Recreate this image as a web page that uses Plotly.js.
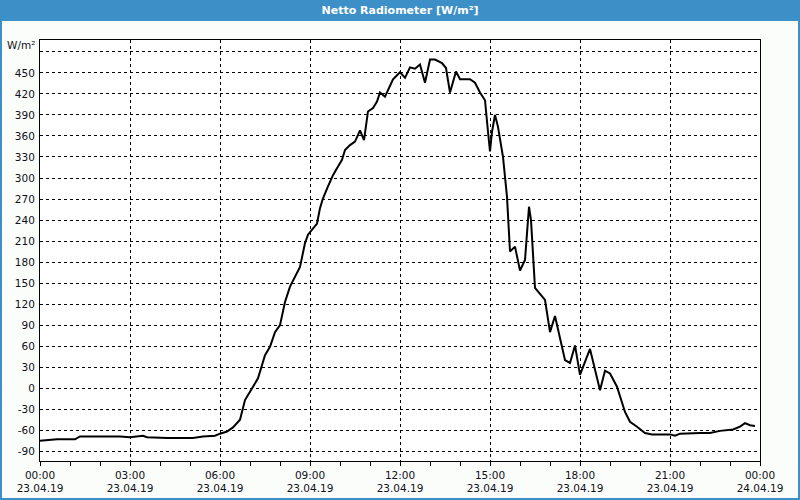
<!DOCTYPE html>
<html>
<head>
<meta charset="utf-8">
<script src="https://cdn.plot.ly/plotly-3.0.1.min.js"></script>
<style>
  html, body { margin: 0; padding: 0; background: #fbfdfb; }
  #chart { width: 800px; height: 500px; }
</style>
</head>
<body>
<div id="chart"></div>
<script>
// Time of day (23.04.19) and net radiation values [W/m²]
const times = [
  "00:00","00:20","00:34","01:10","01:20","02:40","03:00","03:26","03:34","04:14",
  "05:06","05:26","05:50","06:00","06:14","06:26","06:40","06:50","07:00","07:16",
  "07:30","07:40","07:50","08:00","08:10","08:20","08:40","08:50","08:56","09:14",
  "09:20","09:26","09:36","09:46","09:54","10:04","10:10","10:20","10:30","10:40",
  "10:48","10:56","11:06","11:14","11:20","11:30","11:46","12:00","12:10","12:20",
  "12:30","12:40","12:50","13:00","13:10","13:24","13:32","13:40","13:52","14:00",
  "14:20","14:30","14:40","14:50","14:56","15:00","15:04","15:10","15:16","15:26",
  "15:34","15:40","15:50","16:00","16:10","16:18","16:22","16:30","16:50","17:00",
  "17:10","17:30","17:40","17:50","18:00","18:20","18:40","18:50","19:00","19:14",
  "19:30","19:40","19:54","20:10","20:24","21:00","21:10","21:20","22:00","22:20",
  "22:40","23:06","23:20","23:30","23:40","23:50"
];
const radiation = [
  -75,-74,-73,-73,-69,-69,-70,-68,-70,-71,
  -71,-69,-68,-65,-62,-56,-45,-17,-5,14,
  47,59,80,90,123,145,173,207,219,235,
  257,271,288,304,314,326,340,347,352,368,
  354,395,400,409,422,416,441,451,443,458,
  456,462,436,469,469,464,457,422,452,441,
  441,436,422,411,366,338,366,390,373,330,
  273,195,202,168,183,259,240,143,126,80,
  103,40,36,61,19,56,-3,25,21,2,
  -34,-48,-55,-64,-66,-66,-68,-65,-64,-64,
  -61,-59,-55,-50,-53,-54
];
const yTickVals = [-90,-60,-30,0,30,60,90,120,150,180,210,240,270,300,330,360,390,420,450,480];
const yTickText = ["-90","-60","-30","0","30","60","90","120","150","180","210","240","270","300","330","360","390","420","450",""];
const chartTitle = "Netto Radiometer [W/m²]";
const unitLabel = "W/m²";

const day = "2019-04-23 ";
const xs = times.map(t => day + t);

const blue = "#3c8fc7";
const fontFam = "DejaVu Sans, Verdana, sans-serif";

// plot area in px: x 40..760, y 40..461
const pxX = px => (px - 40) / 720;
const pxY = py => (461 - py) / 421;

const trace = {
  x: xs, y: radiation, type: "scatter", mode: "lines",
  line: { color: "#000000", width: 2 },
  hoverinfo: "x+y"
};

const layout = {
  width: 800, height: 500,
  margin: { l: 40, r: 40, t: 40, b: 39, pad: 0 },
  paper_bgcolor: "#fbfdfb",
  plot_bgcolor: "#ffffff",
  showlegend: false,
  font: { family: fontFam, size: 10.5, color: "#10101a" },
  title: {
    text: chartTitle,
    x: 0.5, xref: "paper", xanchor: "center",
    y: 1 - 10.5 / 500, yref: "container", yanchor: "middle",
    font: { family: fontFam, size: 11, color: "#ffffff", weight: "bold" }
  },
  xaxis: {
    type: "date",
    range: ["2019-04-23 00:00", "2019-04-24 00:00"],
    tickvals: ["2019-04-23 00:00","2019-04-23 03:00","2019-04-23 06:00","2019-04-23 09:00","2019-04-23 12:00","2019-04-23 15:00","2019-04-23 18:00","2019-04-23 21:00","2019-04-24 00:00"],
    tickformat: "%H:%M<br>%d.%m.%y",
    ticks: "outside", ticklen: 4, tickcolor: "#000", tickwidth: 1,
    minor: { dtick: 3600000, tick0: "2019-04-23 00:00", ticks: "outside", ticklen: 4, tickcolor: "#000", showgrid: false },
    showgrid: true, gridcolor: "#000000", gridwidth: 1, griddash: "3px,3px",
    showline: true, linecolor: "#000", linewidth: 1, mirror: true,
    zeroline: false, fixedrange: true,
    tickfont: { family: fontFam, size: 10.5, color: "#10101a" }
  },
  yaxis: {
    range: [-104, 497],
    tickvals: yTickVals, ticktext: yTickText,
    ticks: "", ticklabelstandoff: 2,
    showgrid: true, gridcolor: "#000000", gridwidth: 1, griddash: "3px,3px",
    showline: true, linecolor: "#000", linewidth: 1, mirror: true,
    zeroline: false, fixedrange: true,
    tickfont: { family: fontFam, size: 10.5, color: "#10101a" }
  },
  shapes: [
    { type: "rect", xref: "paper", yref: "paper", layer: "below",
      x0: pxX(0), x1: pxX(800), y0: pxY(21), y1: pxY(0),
      fillcolor: blue, line: { width: 0 } },
    { type: "rect", xref: "paper", yref: "paper", layer: "below",
      x0: pxX(0), x1: pxX(2), y0: pxY(500), y1: pxY(0),
      fillcolor: blue, line: { width: 0 } },
    { type: "rect", xref: "paper", yref: "paper", layer: "below",
      x0: pxX(798), x1: pxX(800), y0: pxY(500), y1: pxY(0),
      fillcolor: blue, line: { width: 0 } },
    { type: "rect", xref: "paper", yref: "paper", layer: "below",
      x0: pxX(0), x1: pxX(800), y0: pxY(500), y1: pxY(498),
      fillcolor: blue, line: { width: 0 } }
  ],
  annotations: [
    { text: unitLabel, xref: "paper", yref: "paper",
      x: pxX(37), y: pxY(45), xanchor: "right", yanchor: "middle",
      showarrow: false, font: { family: fontFam, size: 10.5, color: "#10101a" } }
  ]
};

Plotly.newPlot("chart", [trace], layout, { displayModeBar: false, staticPlot: true });
</script>
</body>
</html>
